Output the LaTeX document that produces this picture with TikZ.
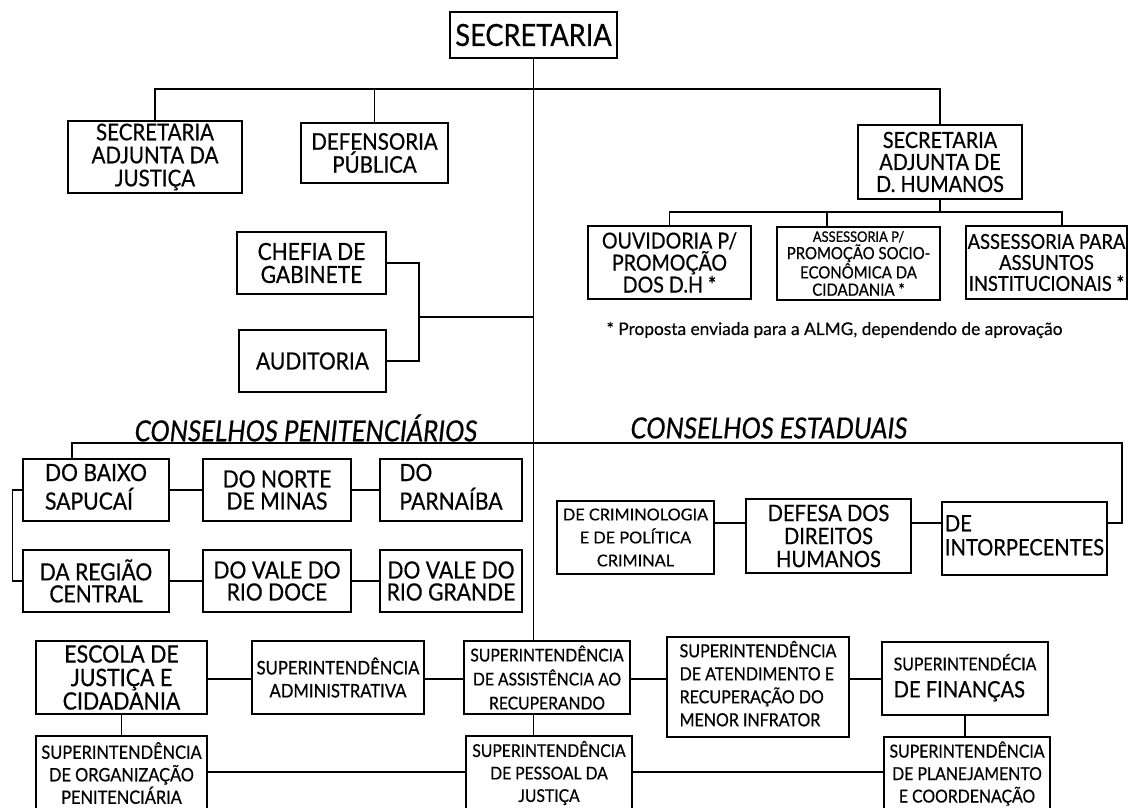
\documentclass[tikz,border=0pt]{standalone}
\usepackage{fontspec}
\setmainfont{Lato}[FakeStretch=0.89,FakeBold=0.6]
\newfontfamily\plainfont{Lato}[FakeBold=0.4]
\newcommand\fsz[2]{\fontsize{#1}{#2}\selectfont}
\begin{document}
\begin{tikzpicture}[x=1pt,y=-1pt,
  bx/.style={draw,line width=1.5pt,inner sep=0pt,align=center},
  ln/.style={line width=1.5pt},
  ttl/.style={inner sep=0pt,font=\fsz{29}{32}\itshape}]
\useasboundingbox (0,0) rectangle (1128,808);
\clip (0,0) rectangle (1128,808);
\fill[white] (0,0) rectangle (1128,808);

% top level
\node[bx,minimum width=167pt,minimum height=46pt,font=\fsz{30.5}{32}] (sec) at (533.5,35) {SECRETARIA};
\node[bx,minimum width=174pt,minimum height=72pt,font=\fsz{23}{23}] (saj) at (155,157) {SECRETARIA\\ADJUNTA DA\\JUSTIÇA};
\node[bx,minimum width=147pt,minimum height=60pt,font=\fsz{23}{23}] (def) at (374.5,153) {DEFENSORIA\\PÚBLICA};
\node[bx,minimum width=164pt,minimum height=74pt,font=\fsz{22.3}{22}] (dh) at (940,162) {SECRETARIA\\ADJUNTA DE\\D. HUMANOS};

% D.H. sub-units
\node[bx,minimum width=163pt,minimum height=73pt,font=\fsz{22}{22}] (ouv) at (669.5,262.5) {OUVIDORIA P/\\PROMOÇÃO\\DOS D.H *};
\node[bx,minimum width=163pt,minimum height=73pt,font=\fsz{16.8}{17.3}] (asp) at (858.5,263.5) {{\fsz{14.5}{17.3}ASSESSORIA P/}\\PROMOÇÃO SOCIO-\\ECONÔMICA DA\\CIDADANIA *};
\node[bx,minimum width=161pt,minimum height=73pt,font=\fsz{20.6}{21}] (apa) at (1046.5,262.5) {ASSESSORIA PARA\\ASSUNTOS\\INSTITUCIONAIS *};
\node[inner sep=0pt,font=\plainfont\fsz{17.3}{19}] (nota) at (834.5,330) {* Proposta enviada para a ALMG, dependendo de aprovação};

% staff
\node[bx,minimum width=149pt,minimum height=62pt,font=\fsz{23.6}{23}] (chefia) at (311.5,263) {CHEFIA DE\\GABINETE};
\node[bx,minimum width=147pt,minimum height=62pt,font=\fsz{23.6}{23}] (aud) at (312.5,361) {AUDITORIA};

% titles
\node[ttl] (tpen) at (306,428) {CONSELHOS PENITENCIÁRIOS};
\node[ttl] (test) at (769,428) {CONSELHOS ESTADUAIS};

% conselhos penitenciarios
\node[bx,minimum width=146pt,minimum height=62pt,font=\fsz{23.7}{22}] (baixo) at (96,490) {\begin{tabular}{@{}l@{}}DO BAIXO\\SAPUCAÍ\end{tabular}};
\node[bx,minimum width=148pt,minimum height=62pt,font=\fsz{23.7}{22}] (norte) at (277,490) {DO NORTE\\DE MINAS};
\node[bx,minimum width=142pt,minimum height=62pt,font=\fsz{23.7}{22}] (parn) at (451,490) {\begin{tabular}{@{}l@{}}DO\\PARNAÍBA\end{tabular}};
\node[bx,minimum width=146pt,minimum height=62pt,font=\fsz{23.7}{22}] (regiao) at (96,581) {DA REGIÃO\\CENTRAL};
\node[bx,minimum width=148pt,minimum height=62pt,font=\fsz{23.7}{22}] (vdoce) at (277,581) {DO VALE DO\\RIO DOCE};
\node[bx,minimum width=142pt,minimum height=62pt,font=\fsz{23.7}{22}] (vgrande) at (451,581) {DO VALE DO\\RIO GRANDE};

% conselhos estaduais
\node[bx,minimum width=157pt,minimum height=73pt,font=\plainfont\fsz{16.3}{23}] (crim) at (635.5,537.5) {DE CRIMINOLOGIA\\E DE POLÍTICA\\CRIMINAL};
\node[bx,minimum width=165pt,minimum height=74pt,font=\fsz{22.6}{23}] (defesa) at (828.5,536) {DEFESA DOS\\DIREITOS\\HUMANOS};
\node[bx,minimum width=165pt,minimum height=73pt,font=\fsz{22.6}{24}] (intor) at (1024.5,538.5) {\begin{tabular}{@{}l@{}}DE\\INTORPECENTES\end{tabular}};

% superintendencias
\node[bx,minimum width=171pt,minimum height=73pt,font=\fsz{24}{23.5}] (escola) at (121.5,677.5) {ESCOLA DE\\JUSTIÇA E\\CIDADANIA};
\node[bx,minimum width=172pt,minimum height=73pt,font=\fsz{18.7}{23}] (admin) at (338,677.5) {SUPERINTENDÊNCIA\\ADMINISTRATIVA};
\node[bx,minimum width=166pt,minimum height=73pt,font=\fsz{17.6}{24}] (assist) at (547,677.5) {SUPERINTENDÊNCIA\\DE ASSISTÊNCIA AO\\RECUPERANDO};
\node[bx,minimum width=182pt,minimum height=100pt,font=\fsz{18}{23}] (atend) at (758,687) {\begin{tabular}{@{}l@{}}SUPERINTENDÊNCIA\\DE ATENDIMENTO E\\RECUPERAÇÃO DO\\MENOR INFRATOR\end{tabular}};
\node[bx,minimum width=166pt,minimum height=73pt,font=\fsz{22.6}{27}] (fin) at (965,678.5) {\begin{tabular}{@{}l@{}}{\fsz{17.8}{20}SUPERINTENDÉCIA}\\DE FINANÇAS\end{tabular}};
\node[bx,minimum width=171pt,minimum height=74pt,font=\fsz{18.4}{22.5}] (org) at (121.5,773) {SUPERINTENDÊNCIA\\DE ORGANIZAÇÃO\\PENITENCIÁRIA};
\node[bx,minimum width=166pt,minimum height=74pt,font=\fsz{17.6}{22.5}] (pessoal) at (549,773) {SUPERINTENDÊNCIA\\DE PESSOAL DA\\JUSTIÇA};
\node[bx,minimum width=166pt,minimum height=73pt,font=\fsz{17.8}{22.5}] (plan) at (967,773.5) {SUPERINTENDÊNCIA\\DE PLANEJAMENTO\\E COORDENAÇÃO};

% helper coordinates
\coordinate (tb) at (0,89);
\coordinate (sb) at (0,212);
\coordinate (aspd) at (827,226);
\coordinate (apad) at (1062,226);
\coordinate (cj) at (419,317);
\coordinate (pb) at (72,443);
\coordinate (eb) at (1122,443);
\coordinate (ey) at (0,523);
\coordinate (ry) at (0,679);
\coordinate (qy) at (0,772);

% main spine
\draw[ln] (sec.south) -- (sec.south |- assist.north);
% top bar
\draw[ln] (saj.north) -- (saj.north |- tb) -- (dh.north |- tb) -- (dh.north);
\draw[ln] (def.north) -- (def.north |- tb);
% D.H. sub bar
\draw[ln] (dh.south) -- (dh.south |- sb);
\draw[ln] (ouv.north) -- (ouv.north |- sb) -- (apad |- sb) -- (apad);
\draw[ln] (aspd) -- (aspd |- sb);
% chefia / auditoria
\draw[ln] (chefia.east) -- (chefia.east -| cj) -- (aud.east -| cj) -- (aud.east);
\draw[ln] (cj) -- (cj -| sec.south);
% conselhos penitenciarios
\draw[ln] (pb -| sec.south) -- (pb) -- (pb |- baixo.north);
\draw[ln] (baixo.east) -- (norte.west);
\draw[ln] (norte.east) -- (parn.west);
\draw[ln] (regiao.east) -- (vdoce.west);
\draw[ln] (vdoce.east) -- (vgrande.west);
\draw[ln] (baixo.west) -- ++(-10,0) |- (regiao.west);
% conselhos estaduais
\draw[ln] (eb -| sec.south) -- (eb) -- (eb |- ey) -- (intor.east |- ey);
\draw[ln] (crim.east |- ey) -- (defesa.west |- ey);
\draw[ln] (defesa.east |- ey) -- (intor.west |- ey);
% superintendencias
\draw[ln] (escola.east |- ry) -- (admin.west |- ry);
\draw[ln] (admin.east |- ry) -- (assist.west |- ry);
\draw[ln] (assist.east |- ry) -- (atend.west |- ry);
\draw[ln] (atend.east |- ry) -- (fin.west |- ry);
\draw[ln] (escola.south) -- (escola.south |- org.north);
\draw[ln] (sec.south |- assist.south) -- (sec.south |- pessoal.north);
\draw[ln] (fin.south) -- (fin.south |- plan.north);
\draw[ln] (org.east |- qy) -- (pessoal.west |- qy);
\draw[ln] (pessoal.east |- qy) -- (plan.west |- qy);
\end{tikzpicture}
\end{document}
